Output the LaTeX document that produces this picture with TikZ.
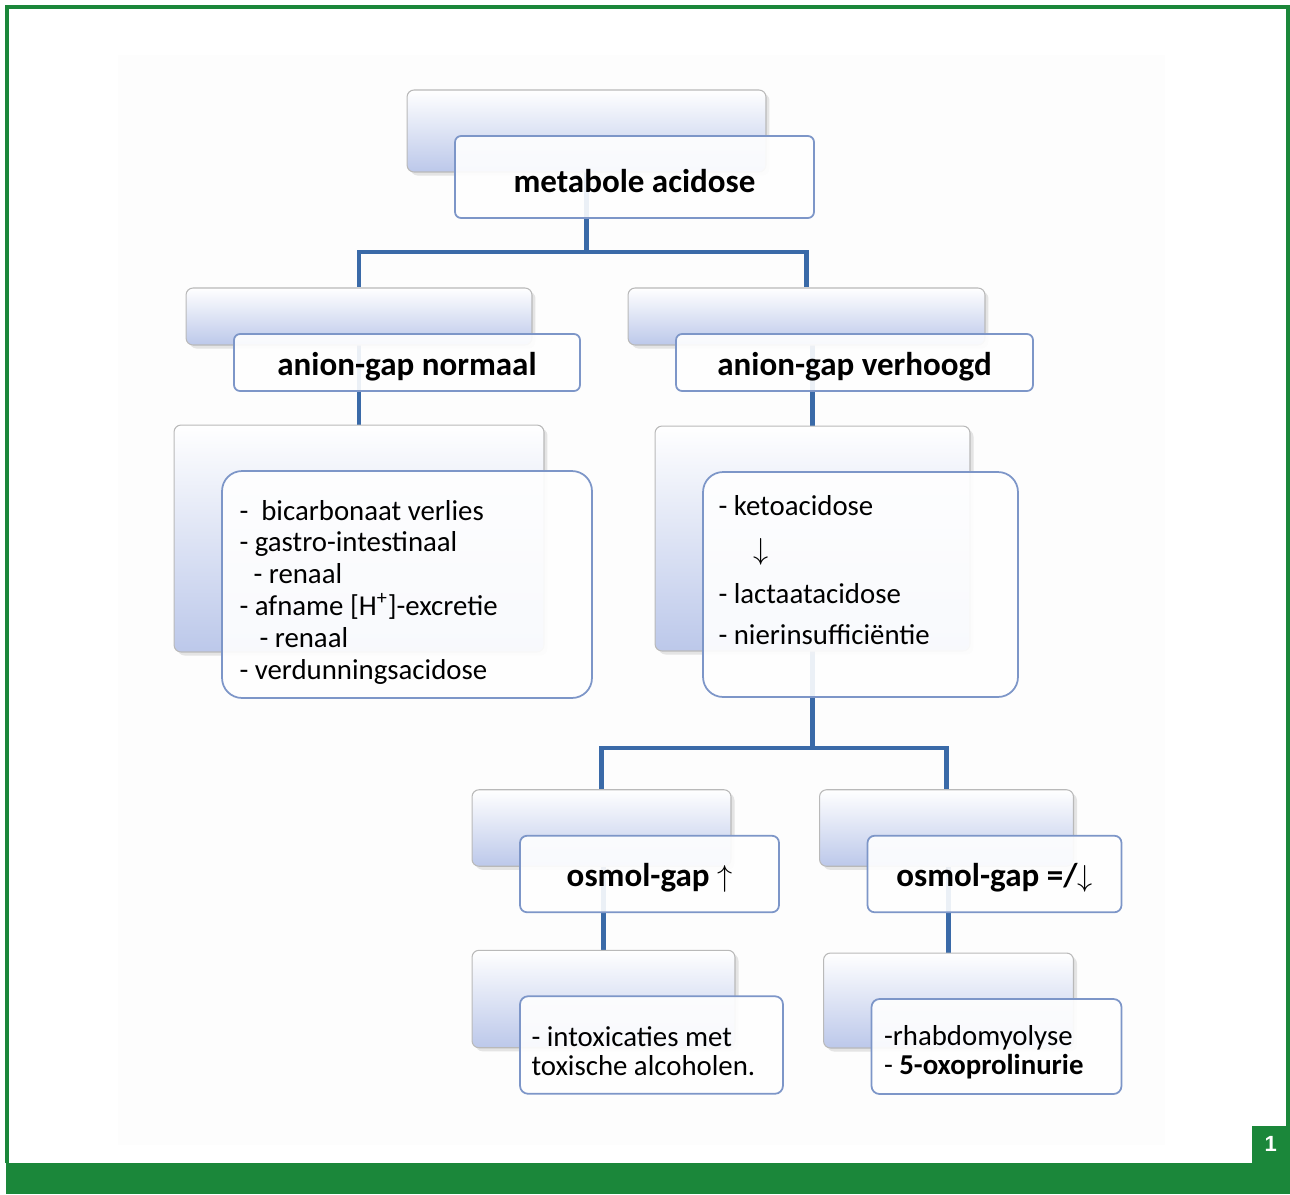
\documentclass[tikz,border=0pt]{standalone}
\usepackage{fontspec}
\setmainfont{Carlito}
\newfontfamily\numfont{Liberation Sans}
\usetikzlibrary{shadows,backgrounds}
\definecolor{kadergroen}{RGB}{27,135,58}
\definecolor{lijnblauw}{RGB}{58,106,168}
\definecolor{randblauw}{RGB}{125,150,200}
\definecolor{vakblauw}{RGB}{188,200,234}

\tikzset{
  achtervak/.style={draw=gray!55, line width=0.6pt, rounded corners=0.14cm,
    top color=white, bottom color=vakblauw,
    drop shadow={shadow xshift=2pt, shadow yshift=-2pt, opacity=0.2}},
  voorvak/.style={draw=randblauw, line width=1pt, fill=white, fill opacity=0.9},
  lijn/.style={draw=lijnblauw, line width=2.8pt},
  titel/.style={font=\fontsize{18.8}{22}\selectfont\bfseries, inner sep=0pt, yshift=-0.08cm},
  lijst/.style={font=\fontsize{16.4}{18.1}\selectfont, align=left, inner sep=0pt, anchor=west},
}

\begin{document}
\begin{tikzpicture}[x=0.02cm, y=-0.02cm]
  \useasboundingbox (0,0) rectangle (1290,1194);

  % Kader
  \draw[kadergroen, line width=1.8pt] (7,1163) -- (7,7) -- (1288,7) -- (1288,1126);
  \fill[kadergroen] (6,1163) rectangle (1290,1194);
  \node[fill=kadergroen, minimum width=0.76cm, minimum height=0.74cm, anchor=south east,
    text=white, font=\numfont\bfseries\fontsize{12.5}{14}\selectfont] (nr) at (1290,1163) {1};

  % Vakken (achter en voor)
  \foreach \n/\x/\y/\w/\h/\r in {
      top/586.5/131/7.18/1.64/0.12,
      l2l/359/316.5/6.92/1.14/0.12,
      l2r/806.5/316.5/7.14/1.14/0.12,
      l3l/359/538.5/7.4/4.54/0.4,
      l3r/812.5/538.5/6.3/4.5/0.4,
      l4l/601.5/828/5.18/1.53/0.14,
      l4r/946.5/828/5.08/1.53/0.14,
      l5l/603.5/999/5.26/1.95/0.16,
      l5r/948.5/1000.5/5.0/1.9/0.16} {
    \node[achtervak, minimum width=\w cm, minimum height=\h cm] (\n-b) at (\x,\y) {};
    \node[voorvak, rounded corners=\r cm, minimum width=\w cm, minimum height=\h cm] (\n-f) at (\x+48,\y+46) {};
  }

  % Teksten
  \node[titel] (t-top) at (top-f) {metabole acidose};
  \node[titel] (t-l2l) at (l2l-f) {anion-gap normaal};
  \node[titel] (t-l2r) at (l2r-f) {anion-gap verhoogd};
  \node[titel] (t-l4l) at (l4l-f) {osmol-gap $\uparrow$};
  \node[titel] (t-l4r) at (l4r-f) {osmol-gap =/$\downarrow$};

  \node[lijst] (t-l3l) at ([xshift=0.36cm, yshift=-0.15cm]l3l-f.west)
    {-~ bicarbonaat verlies\\- gastro-intestinaal\\\hspace{0.28cm}- renaal\\
     - afname [H\textsuperscript{+}]-excretie\\\hspace{0.4cm}- renaal\\- verdunningsacidose};
  \node[lijst] (t-l3r) at ([xshift=0.32cm, yshift=0.29cm]l3r-f.west)
    {- ketoacidose\\[7pt]\hspace{0.7cm}$\downarrow$\\[7pt]- lactaatacidose\\[5pt]- nierinsufficiëntie};
  \node[lijst] (t-l5l) at ([xshift=0.24cm, yshift=-0.12cm]l5l-f.west)
    {- intoxicaties met\\[-1.5pt]toxische alcoholen.};
  \node[lijst] (t-l5r) at ([xshift=0.26cm, yshift=-0.12cm]l5r-f.west)
    {-rhabdomyolyse\\[-1.5pt]- \textbf{5-oxoprolinurie}};

  % Verbindingen
  \begin{scope}[on background layer]
    \fill[gray!1.5] (118,55) rectangle (1165,1145);
    \coordinate (j1) at (586.5,252);
    \draw[lijn] (top-b.center) -- (j1) -| (l2l-b.north);
    \draw[lijn] (j1) -| (l2r-b.north);
    \draw[lijn] (l2l-b.center) -- (l3l-b.north);
    \draw[lijn] (l3r-b.north) -- (l3r-b.north |- l2r-b.center);
    \coordinate (j2) at (812.5,748);
    \draw[lijn] (l3r-b.center) -- (j2) -| (l4l-b.north);
    \draw[lijn] (j2) -| (l4r-b.north);
    \draw[lijn] (l5l-b.north) -- (l5l-b.north |- l4l-b.center);
    \draw[lijn] (l5r-b.north) -- (l5r-b.north |- l4r-b.center);
  \end{scope}
\end{tikzpicture}
\end{document}
